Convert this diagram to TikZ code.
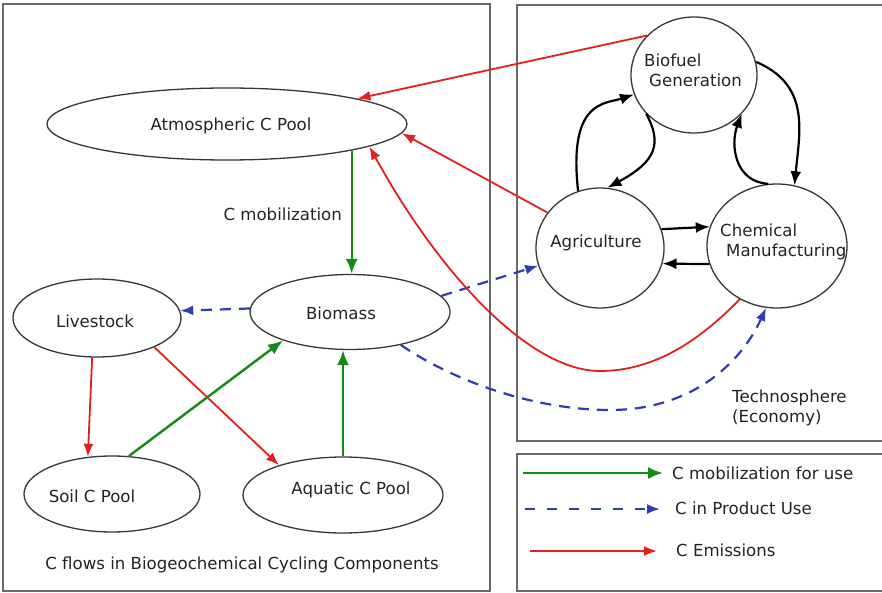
\documentclass[tikz,border=0pt]{standalone}
\usepackage{fontspec}
\setmainfont{DejaVu Sans}
\usetikzlibrary{shapes.geometric,arrows.meta}

\definecolor{cred}{RGB}{228,32,30}
\definecolor{cgreen}{RGB}{20,138,20}
\definecolor{cblue}{RGB}{48,60,178}
\definecolor{frame}{RGB}{105,105,105}
\definecolor{rim}{RGB}{55,55,55}
\definecolor{ink}{RGB}{35,35,35}

\tikzset{
  panel/.style={draw=frame, line width=1.7pt},
  pool/.style={ellipse, draw=rim, line width=1.3pt, inner sep=0pt, fill=white},
  txt/.style={font=\fontsize{16.6}{20}\selectfont, text=ink, inner sep=0pt},
  emis/.style={draw=cred, line width=1.8pt, -{Latex[length=13pt,width=10pt]}},
  mobil/.style={draw=cgreen, line width=2.4pt, -{Latex[length=15pt,width=12pt]}},
  prod/.style={draw=cblue, line width=2.2pt, dash pattern=on 11pt off 8pt, -{Latex[length=13pt,width=10pt]}},
  cyc/.style={draw=black, line width=2.2pt, -{Latex[length=14pt,width=11pt]}},
}

\begin{document}
\begin{tikzpicture}[x=1pt,y=-1pt]
\useasboundingbox (0,0) rectangle (882,593);
\fill[white] (0,0) rectangle (882,593);

% panels
\draw[panel] (3,4) rectangle (490,591);
\draw[panel] (517,5) rectangle (890,441);
\draw[panel] (517,454) rectangle (890,591);

% biogeochemical pools
\node[pool, minimum width=360pt, minimum height=72pt] (atm) at (227,124) {};
\node[pool, minimum width=200pt, minimum height=75pt] (biomass) at (350,312) {};
\node[pool, minimum width=168pt, minimum height=78pt] (livestock) at (97,318) {};
\node[pool, minimum width=176pt, minimum height=76pt] (soil) at (112,494) {};
\node[pool, minimum width=200pt, minimum height=76pt] (aquatic) at (343,495) {};

\node[txt] (atmtxt) at (231,126) {Atmospheric C Pool};
\node[txt] (biotxt) at (341,313) {Biomass};
\node[txt] (livetxt) at (95,321) {Livestock};
\node[txt] (soiltxt) at (92,496) {Soil C Pool};
\node[txt] (aqtxt) at (351,490) {Aquatic C Pool};
\node[txt] (caption) at (242,565) {C flows in Biogeochemical Cycling Components};

% technosphere processes
\node[pool, minimum width=126pt, minimum height=116pt] (biofuel) at (694,75) {};
\node[pool, minimum width=128pt, minimum height=120pt] (agri) at (600,248) {};
\node[pool, minimum width=140pt, minimum height=124pt] (chem) at (777,246) {};

\node[txt, align=left, anchor=west] (biofueltxt) at (644,70) {Biofuel\\\hspace*{5pt}Generation};
\node[txt] (agritxt) at (596,243) {Agriculture};
\node[txt, align=left, anchor=west] (chemtxt) at (720,242) {Chemical\\\hspace*{6pt}Manufacturing};
\node[txt, align=left, anchor=west] (techtxt) at (732,408) {Technosphere\\(Economy)};

% carbon mobilization
\draw[mobil] (atm.-12.6) -- (atm.-12.6 |- biomass.north);
\node[txt, anchor=east] (mobtxt) at (342,214) {C mobilization};
\draw[mobil] (soil.66.8) -- (biomass.-157.1);
\draw[mobil] (aquatic.north) -- (aquatic.north |- biomass.south);

% carbon in product use
\draw[prod] (biomass.178) -- (livestock.5.6);
\draw[prod] (biomass.10.4) -- (agri.-164.7);
\draw[prod] (biomass.-33.4) .. controls (460,385) and (540,410) .. (610,410)
  .. controls (690,410) and (740,365) .. (chem.-100.9);

% carbon emissions
\draw[emis] (livestock.-97.5) -- (soil.123.3);
\draw[emis] (livestock.-27) -- (aquatic.155.2);
\draw[emis] (biofuel.140.8) -- (atm.11);
\draw[emis] (agri.146.8) -- (atm.-3);
\draw[emis] (chem.-125.4) .. controls (700,340) and (655,371) .. (600,371)
  .. controls (530,371) and (440,275) .. (atm.-9);

% exchanges inside the technosphere
\draw[cyc] (agri.111.6) .. controls (568,100) and (605,104) .. (biofuel.-162.2);
\draw[cyc] (biofuel.-141) .. controls (662,143) and (657,161) .. (agri.83.1);
\draw[cyc] (biofuel.12) .. controls (810,85) and (800,130) .. (chem.74);
\draw[cyc] (chem.98.1) .. controls (735,182) and (730,145) .. (biofuel.-39.1);
\draw[cyc] (agri.17.6) -- (chem.164.7);
\draw[cyc] (chem.-165.4) -- (agri.-14.2);

% legend
\coordinate (lg1a) at (523,473);
\coordinate (lg1b) at (663,473);
\coordinate (lg2a) at (525,509);
\coordinate (lg2b) at (660,509);
\coordinate (lg3a) at (530,551);
\coordinate (lg3b) at (657,551);
\draw[mobil] (lg1a) -- (lg1b);
\draw[prod, dash pattern=on 10pt off 12pt] (lg2a) -- (lg2b);
\draw[emis] (lg3a) -- (lg3b);
\node[txt, anchor=west] (lgt1) at (672,473) {C mobilization for use};
\node[txt, anchor=west] (lgt2) at (675,508) {C in Product Use};
\node[txt, anchor=west] (lgt3) at (676,550) {C Emissions};
\end{tikzpicture}
\end{document}
